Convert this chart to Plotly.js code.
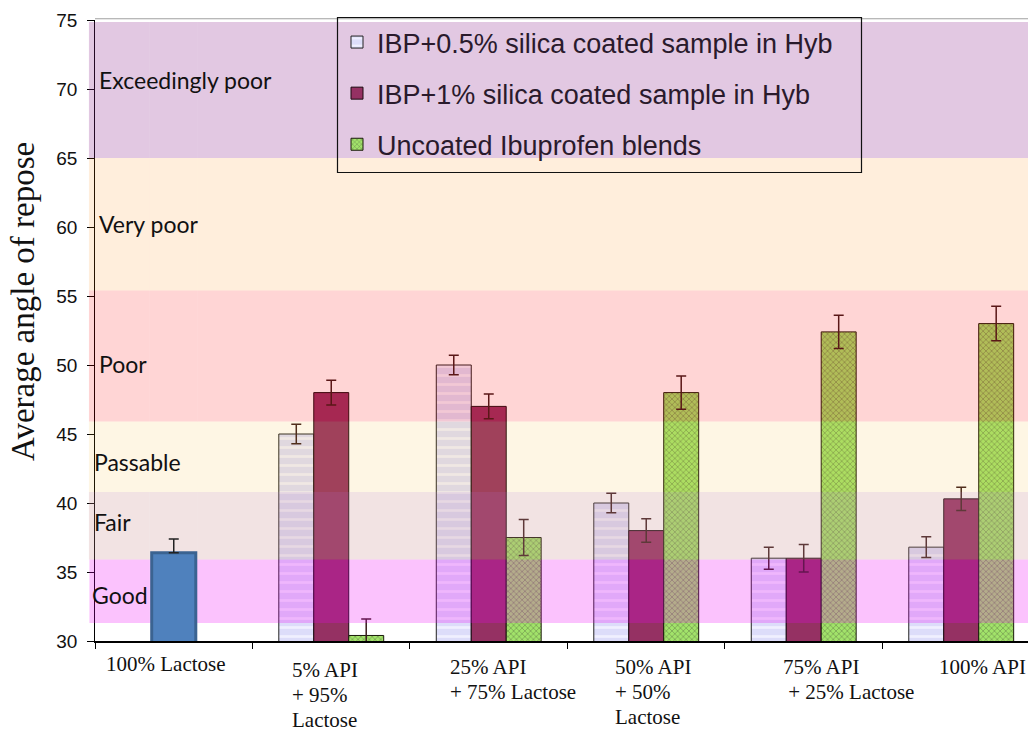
<!DOCTYPE html>
<html>
<head>
<meta charset="utf-8">
<script src="https://cdn.plot.ly/plotly-3.0.1.min.js"></script>
<style>html,body{margin:0;padding:0;background:#fff;}#chart{width:1028px;height:731px;}</style>
</head>
<body>
<div id="chart"></div>
<script>
// ---- data ----
const categories = ['100% Lactose', '5% API + 95% Lactose', '25% API + 75% Lactose', '50% API + 50% Lactose', '75% API + 25% Lactose', '100% API'];
const tickLabels = ['100% Lactose', '5% API<br>+ 95%<br>Lactose', '25% API<br>+ 75% Lactose', '50% API<br>+ 50%<br>Lactose', '75% API<br> + 25% Lactose', '100% API'];
const blendCategories = categories.slice(1);
const seriesNames = ['IBP+0.5% silica coated sample in Hyb', 'IBP+1% silica coated sample in Hyb', 'Uncoated Ibuprofen blends'];
const lactoseValue = [36.4];
const lactoseError = [1.0];
const coated05 = [45.0, 50.0, 40.0, 36.0, 36.8];
const coated05Err = [0.7, 0.7, 0.7, 0.8, 0.75];
const coated1 = [48.0, 47.0, 38.0, 36.0, 40.3];
const coated1Err = [0.9, 0.9, 0.85, 1.0, 0.85];
const uncoated = [30.4, 37.5, 48.0, 52.4, 53.0];
const uncoatedErr = [1.2, 1.3, 1.2, 1.2, 1.25];
const bandNames = ['Good', 'Fair', 'Passable', 'Poor', 'Very poor', 'Exceedingly poor'];
const bandLow = [31.3, 35.9, 40.8, 45.9, 55.4, 65.0];
const bandHigh = [35.9, 40.8, 45.9, 55.4, 65.0, 74.85];
const bandLabelY = [33.3, 38.6, 43.0, 50.1, 60.2, 70.65];

// ---- layout constants & styles ----
const W = 1028, H = 731, ML = 95, MR = 0, MT = 20, MB = 90;
const plotW = W - ML - MR, plotH = H - MT - MB;
const xRange = [-0.5, 5.424];
const pxPerCat = plotW / (xRange[1] - xRange[0]);
const toPaperX = v => (v - xRange[0]) * pxPerCat / plotW;
const pxToPaperX = px => (px - ML) / plotW;
const pxToPaperY = py => (H - MB - py) / plotH;
const lactoseHalf = 0.14;
const lactoseCut = lactoseHalf + 2 / pxPerCat;

const bandColors = ['rgba(238,0,245,0.24)', 'rgba(202,145,145,0.25)', 'rgba(250,180,33,0.12)', 'rgba(255,0,0,0.165)', 'rgba(255,134,5,0.14)', 'rgba(139,35,139,0.25)'];
const bandLabelPx = [90, 92, 92, 97, 97, 97];
const labelShiftX = [-70, -41, -41, -33, -23, -24];
const labelShiftY = [-9, -15, -12, -12, -12, -12];
const lineGap = 25;
const errStyle = {type: 'data', color: '#3a1c1c', thickness: 1.5, width: 5, visible: true};

const traces = [
  {
    type: 'bar', x: [categories[0]], y: lactoseValue, width: 2 * lactoseHalf, offset: -lactoseHalf,
    marker: {color: '#4f81bd', line: {color: '#3b6391', width: 3}},
    error_y: Object.assign({}, errStyle, {symmetric: false, array: lactoseError, arrayminus: lactoseError.map(() => 0), color: '#222'}),
    showlegend: false, hoverinfo: 'y'
  },
  {
    type: 'bar', name: seriesNames[0], x: blendCategories, y: coated05, width: 0.222, offset: -0.333,
    legendgroup: 'a',
    marker: {color: 'rgb(222,222,250)', line: {color: '#222', width: 1},
      pattern: {shape: '-', bgcolor: 'rgb(221,221,250)', fgcolor: 'rgb(240,240,255)', size: 9, solidity: 0.3}},
    error_y: Object.assign({array: coated05Err}, errStyle)
  },
  {
    type: 'bar', name: seriesNames[1], x: blendCategories, y: coated1, width: 0.222, offset: -0.111,
    legendgroup: 'b',
    marker: {color: '#953163', line: {color: '#1a0a10', width: 1}},
    error_y: Object.assign({array: coated1Err}, errStyle)
  },
  {
    type: 'bar', name: seriesNames[2], x: blendCategories, y: uncoated, width: 0.222, offset: 0.111,
    legendgroup: 'c',
    marker: {color: '#9ee065', line: {color: '#1a1a0a', width: 1},
      pattern: {shape: 'x', bgcolor: '#a2e36a', fgcolor: '#5b7444', size: 4, solidity: 0.22}},
    error_y: Object.assign({array: uncoatedErr}, errStyle)
  }
];

// bands drawn over the bars, except in the column of the blue lactose bar (which sits in front)
const shapes = [];
bandNames.forEach((n, i) => {
  const x0 = i === 0 ? -0.006 : -0.0065;
  shapes.push({type: 'rect', layer: 'above', xref: 'paper', yref: 'y',
    x0: x0, x1: toPaperX(-lactoseCut), y0: bandLow[i], y1: bandHigh[i],
    fillcolor: bandColors[i], line: {width: 0}});
  shapes.push({type: 'rect', layer: 'below', xref: 'paper', yref: 'y',
    x0: toPaperX(-lactoseCut), x1: toPaperX(lactoseCut), y0: bandLow[i], y1: bandHigh[i],
    fillcolor: bandColors[i], line: {width: 0}});
  shapes.push({type: 'rect', layer: 'above', xref: 'paper', yref: 'y',
    x0: toPaperX(lactoseCut), x1: 1, y0: bandLow[i], y1: bandHigh[i],
    fillcolor: bandColors[i], line: {width: 0}});
});
// top frame line of the plot area
shapes.push({type: 'line', layer: 'above', xref: 'paper', yref: 'paper', x0: 0, x1: 1, y0: 1.002, y1: 1.002,
  line: {color: '#a0a0a0', width: 1}});
// legend frame
shapes.push({type: 'rect', layer: 'above', xref: 'paper', yref: 'paper',
  x0: pxToPaperX(337.5), x1: pxToPaperX(861.5), y0: pxToPaperY(172.5), y1: pxToPaperY(17.5),
  fillcolor: 'rgba(0,0,0,0)', line: {color: '#111', width: 1.2}});

const annotations = [];
bandNames.forEach((n, i) => annotations.push({
  text: n, xref: 'paper', yref: 'y', x: pxToPaperX(bandLabelPx[i]), y: bandLabelY[i],
  xanchor: 'left', yanchor: 'middle', showarrow: false,
  font: {family: 'Lato, "Open Sans", sans-serif', size: 23, color: '#111'}
}));
categories.forEach((c, i) => {
  tickLabels[i].split('<br>').forEach((line, k) => annotations.push({
    text: line, xref: 'x', yref: 'paper', x: c, y: 0,
    xanchor: 'left', yanchor: 'top', align: 'left', showarrow: false,
    xshift: labelShiftX[i], yshift: labelShiftY[i] - k * lineGap,
    font: {family: '"Liberation Serif", "Times New Roman", serif', size: 21, color: '#111'}
  }));
});
annotations.push({
  text: 'Average angle of repose', xref: 'paper', yref: 'paper',
  x: pxToPaperX(23), y: pxToPaperY(302), xanchor: 'center', yanchor: 'middle',
  textangle: -90, showarrow: false,
  font: {family: '"Liberation Serif", "Times New Roman", serif', size: 33, color: '#111'}
});

const layout = {
  width: W, height: H,
  margin: {l: ML, r: MR, t: MT, b: MB, pad: 0},
  paper_bgcolor: '#fff', plot_bgcolor: '#fff',
  barmode: 'overlay',
  showlegend: true,
  legend: {
    x: pxToPaperX(337), y: pxToPaperY(18), xanchor: 'left', yanchor: 'top',
    bgcolor: 'rgba(0,0,0,0)', borderwidth: 0,
    traceorder: 'grouped', tracegroupgap: 13,
    font: {family: '"Liberation Sans", Arial, sans-serif', size: 27, color: '#2a1a2c'}
  },
  xaxis: {
    type: 'category', categoryorder: 'array', categoryarray: categories,
    range: xRange, showticklabels: false, tickson: 'boundaries',
    ticks: 'outside', ticklen: 6, tickcolor: '#000', showline: true, linecolor: '#000', linewidth: 1.5,
    showgrid: false, zeroline: false, fixedrange: true
  },
  yaxis: {
    range: [30, 75], dtick: 5, tick0: 30, ticks: 'outside', ticklen: 7, tickcolor: '#000',
    ticksuffix: '\u00a0',
    showline: true, linecolor: '#000', linewidth: 1.5, showgrid: false, zeroline: false,
    tickfont: {family: '"Liberation Sans", Arial, sans-serif', size: 19, color: '#111'}
  },
  shapes: shapes,
  annotations: annotations
};

Plotly.newPlot('chart', traces, layout, {displayModeBar: false, staticPlot: true});
</script>
</body>
</html>
